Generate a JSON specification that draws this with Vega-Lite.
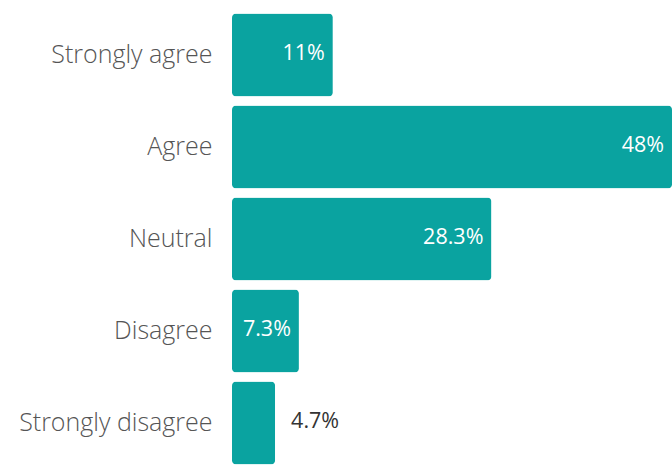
{
  "$schema": "https://vega.github.io/schema/vega-lite/v6.json",
  "autosize": {"type": "none"},
  "padding": {"left": 232, "top": 9, "right": 0, "bottom": 0},
  "width": 440,
  "height": 460,
  "background": "white",
  "config": {"view": {"stroke": null}, "font": "Open Sans"},
  "data": {"values": [
    {"response": "Strongly agree", "pct": 11, "label": "11%"},
    {"response": "Agree", "pct": 48, "label": "48%"},
    {"response": "Neutral", "pct": 28.3, "label": "28.3%"},
    {"response": "Disagree", "pct": 7.3, "label": "7.3%"},
    {"response": "Strongly disagree", "pct": 4.7, "label": "4.7%"}
  ]},
  "encoding": {
    "y": {"field": "response", "type": "nominal", "sort": null,
      "scale": {"paddingInner": 0.1, "paddingOuter": 0.05},
      "axis": {"title": null, "ticks": false, "domain": false, "labelPadding": 20,
        "labelFontSize": 25, "labelColor": "#555555", "labelFont": "Open Sans", "labelFontWeight": 300, "labelLimit": 300}},
    "x": {"field": "pct", "type": "quantitative", "scale": {"domain": [0, 48], "nice": false}, "axis": null}
  },
  "layer": [
    {"mark": {"type": "bar", "color": "#0aa3a0", "cornerRadius": 4}},
    {"transform": [{"filter": "datum.pct > 5"}],
     "mark": {"type": "text", "align": "right", "dx": -8, "dy": -1, "color": "#ffffff", "fontSize": 21.5, "font": "Open Sans"},
     "encoding": {"text": {"field": "label"}}},
    {"transform": [{"filter": "datum.pct <= 5"}],
     "mark": {"type": "text", "align": "left", "dx": 16, "dy": -1, "color": "#333333", "fontSize": 21.5, "font": "Open Sans"},
     "encoding": {"text": {"field": "label"}}}
  ]
}
